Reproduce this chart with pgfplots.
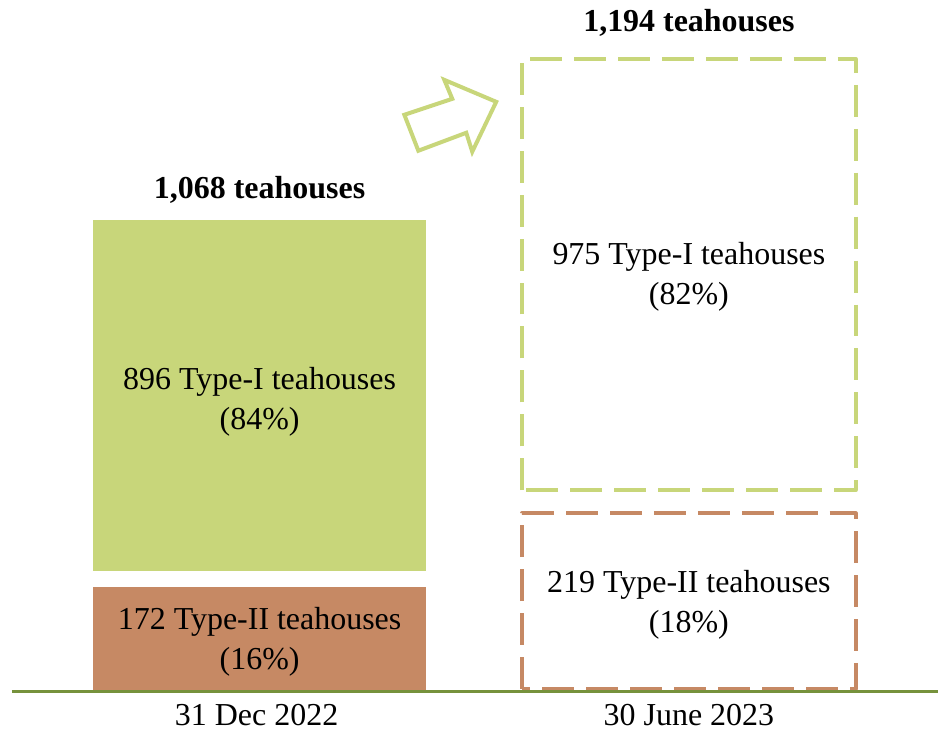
\documentclass[border=0pt]{standalone}
\usepackage{pgfplots}
\pgfplotsset{compat=1.18}
\usepackage{fontspec}
\setmainfont{Liberation Serif}
\definecolor{tgreen}{RGB}{200,214,122}
\definecolor{tbrown}{RGB}{198,137,100}
\definecolor{tbase}{RGB}{118,146,60}
\tikzset{lbl/.style={font=\fontsize{16}{20}\selectfont, align=center, inner sep=0pt}}
\begin{document}
\begin{tikzpicture}
\begin{axis}[
  scale only axis, width=469.5pt, height=366pt,
  xmin=0, xmax=939, ymin=0, ymax=732,
  hide axis, clip=false,
]
\path (axis cs:0,0) rectangle (axis cs:939,732);
% left: 31 Dec 2022 (solid)
\addplot[draw=none, fill=tbrown] coordinates {(93,40) (427,40) (427,144) (93,144)} --cycle;
\addplot[draw=none, fill=tgreen] coordinates {(93,160) (427,160) (427,512) (93,512)} --cycle;
% right: 30 June 2023 (dashed outlines)
\addplot[draw=tbrown, line width=2pt, dash pattern=on 16pt off 6pt, line join=round] coordinates {(523,42) (523,218) (857,218) (857,42)} --cycle;
\addplot[draw=tgreen, line width=2pt, dash pattern=on 16pt off 6pt, line join=round] coordinates {(523,241) (523,673) (857,673) (857,241)} --cycle;
% baseline
\addplot[draw=tbase, line width=1.5pt] coordinates {(12,39) (939,39)};
% arrow
\addplot[draw=tgreen, line width=2pt, fill=white, line join=miter] coordinates {(405,617) (453,633) (445,652) (497,630) (473,580) (467,599) (419,581)} --cycle;
% labels
\node[lbl] at (axis cs:260,330) {896 Type-I teahouses\\(84\%)};
\node[lbl] at (axis cs:260,89) {172 Type-II teahouses\\(16\%)};
\node[lbl] at (axis cs:690,455) {975 Type-I teahouses\\(82\%)};
\node[lbl] at (axis cs:690,126) {219 Type-II teahouses\\(18\%)};
\node[lbl, font=\fontsize{16}{20}\selectfont\bfseries] at (axis cs:260,542) {1,068 teahouses};
\node[lbl, font=\fontsize{16}{20}\selectfont\bfseries] at (axis cs:690,709) {1,194 teahouses};
\node[lbl] at (axis cs:257,16) {31 Dec 2022};
\node[lbl] at (axis cs:690,16) {30 June 2023};
\end{axis}
\end{tikzpicture}
\end{document}
